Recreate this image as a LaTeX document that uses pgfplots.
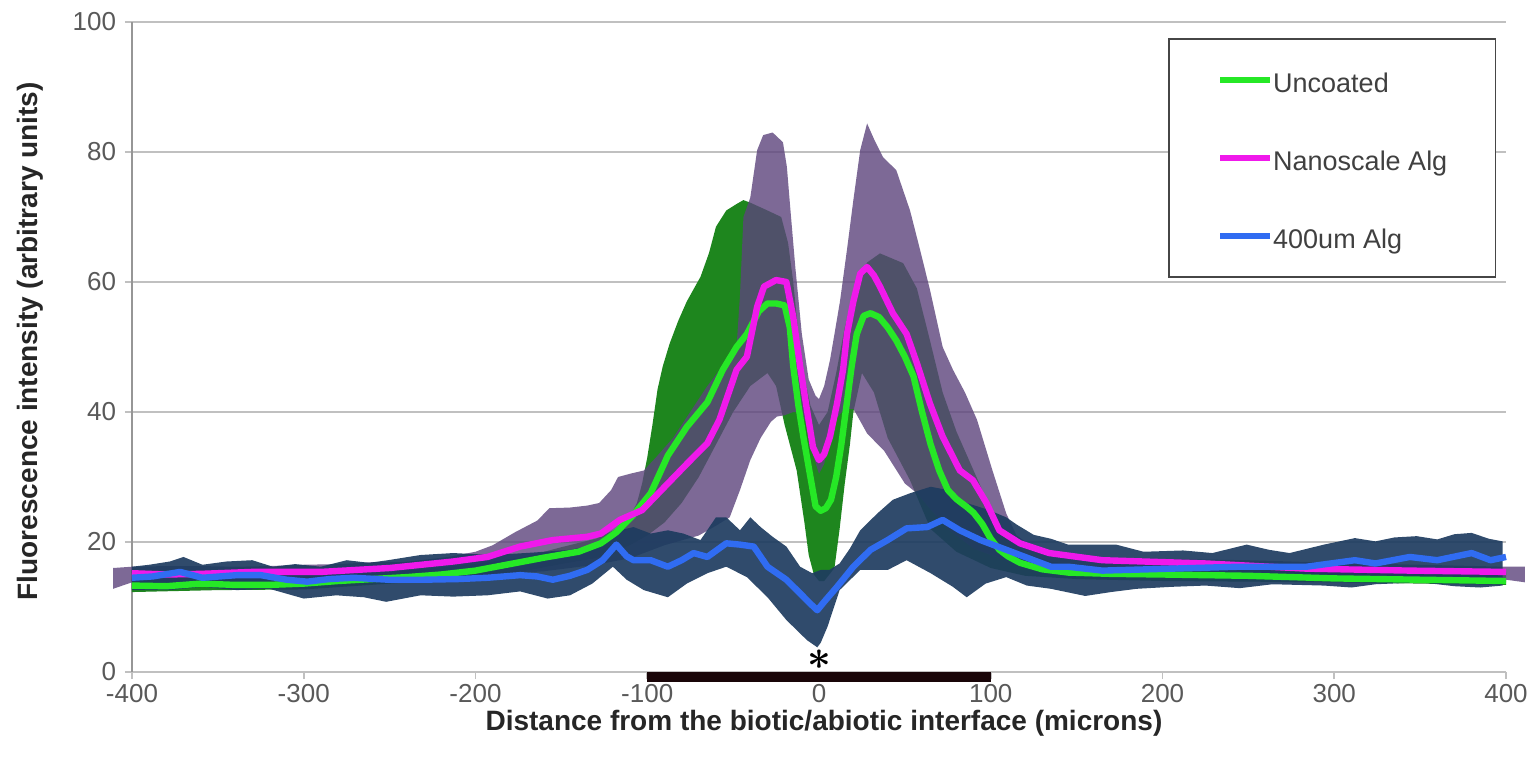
\documentclass[border=0pt]{standalone}
\usepackage{fontspec}
\setmainfont{Liberation Sans}
\usepackage{pgfplots}
\pgfplotsset{compat=1.18}
\usepgfplotslibrary{fillbetween}
\definecolor{gline}{RGB}{38,232,38}
\definecolor{mline}{RGB}{240,25,235}
\definecolor{bline}{RGB}{48,108,242}
\definecolor{gband}{RGB}{30,134,30}
\definecolor{pband}{RGB}{92,68,124}
\definecolor{nband}{RGB}{30,60,96}
\definecolor{gridc}{RGB}{192,192,192}
\definecolor{tickc}{RGB}{89,89,89}
\definecolor{labc}{RGB}{38,38,38}
\definecolor{barc}{RGB}{25,5,8}
\begin{document}
\begin{tikzpicture}
\begin{axis}[
  width=687pt, height=325pt, scale only axis,
  xmin=-400, xmax=400, ymin=0, ymax=100,
  clip=false,
  axis x line=bottom, axis y line=left,
  x axis line style={-, draw=gridc, line width=1pt},
  y axis line style={-, draw={rgb,255:red,150;green,150;blue,150}, line width=0.7pt},
  xtick={-400,-300,...,400},
  xticklabels={-400,-300,-200,-100,0,100,200,300,400},
  ytick={0,20,...,100},
  yticklabels={0,20,40,60,80,100},
  tick align=outside,
  major tick length=3.5pt,
  tick style={draw=gridc, line width=0.8pt},
  ymajorgrids,
  grid style={draw=gridc, line width=1pt},
  tick label style={font=\fontsize{13}{15}\selectfont, text=tickc, inner sep=0pt},
  xticklabel style={anchor=base, yshift=-11.5pt},
  yticklabel style={anchor=east, xshift=-4.3pt},
  xlabel={Distance from the biotic/abiotic interface (microns)},
  ylabel={Fluorescence intensity (arbitrary units)},
  xlabel style={font=\fontsize{14}{16}\selectfont\bfseries, text=labc, at={(axis description cs:0.5036,0)}, anchor=base, yshift=-29pt},
  ylabel style={font=\fontsize{14}{16}\selectfont\bfseries, text=labc, at={(axis description cs:0,0.509)}, anchor=center, yshift=51pt},
  legend style={at={(0.754,0.975)}, anchor=north west, draw={rgb,255:red,70;green,70;blue,70}, line width=0.8pt, fill=white,
    font=\fontsize{13.5}{16}\selectfont, text={rgb,255:red,64;green,64;blue,64},
    inner xsep=24pt, inner ysep=14.5pt, row sep=27pt,
    nodes={inner sep=0pt, text height=12pt, text depth=0pt}},
  legend cell align=left,
  legend image code/.code={\draw[#1, line width=3.2pt] (0pt,0pt) -- (25pt,0pt);},
]
% ---- Uncoated band (mean +/- error)
\addplot[name path=GU, draw=none, forget plot] coordinates {
(-400,14.3) (-350,14.6) (-300,14.7) (-250,15.4) (-200,16.6) (-170,17.8) (-150,19.2) (-130,20.5) (-118,22) (-110,24) (-106,26) (-103,29) (-100,33) (-97,38) (-94,43.5) (-91,47) (-87,50.5) (-82,54) (-77,57) (-69,60.8) (-64,64.5) (-60,68.5) (-54,71) (-48,72) (-44,72.6) (-40,72.2) (-30,71) (-22,70) (-18,66) (-15,60) (-12,52) (-9,46) (-5,41) (0,38) (5,40) (10,46) (15,53) (20,58) (28,63) (35.5,64.4) (49,62.9) (57,59) (64.6,51) (72,43) (80,37) (90,31) (100,25) (110,21) (120,18.3) (135,17) (160,16.3) (200,16) (300,15.7) (400,15.4)};
\addplot[name path=GL, draw=none, forget plot] coordinates {
(-400,12.3) (-350,12.6) (-300,12.7) (-250,13.6) (-200,14.6) (-170,15.6) (-150,16.6) (-130,17.5) (-110,19.5) (-100,21) (-90,23) (-80,26) (-70,30) (-60,35) (-50,40) (-40,44) (-30,46) (-25,44) (-20,38) (-13,31) (-8.5,23) (-6,18) (-3,15) (0,14) (3,14) (6,15) (9,16) (12,22) (15,29) (18,35) (20,40) (25,46) (32,43) (40,36) (53,29.5) (65,22) (80,18.5) (100,16) (120,14.8) (150,14.3) (200,14) (300,13.8) (400,13.4)};
\addplot[fill=gband, draw=none, forget plot] fill between[of=GU and GL];
% ---- Nanoscale Alg band
\addplot[name path=PU, draw=none, forget plot] coordinates {
(-411,16) (-400,16.2) (-380,16.3) (-360,16.3) (-340,16.2) (-320,16.3) (-300,16.5) (-280,16.6) (-260,16.9) (-242,16.9) (-216,17.7) (-200,18.5) (-190,19.5) (-177,21.5) (-164,23.3) (-157,25.2) (-145,25.3) (-135,25.6) (-128,26) (-121,28) (-117,30) (-110,30.5) (-102,31) (-95,33) (-85,36) (-75,40) (-65,44) (-55,47.5) (-48,50) (-46,58) (-44,70) (-40,73) (-36,80.3) (-32.5,82.6) (-27,83) (-21,81.5) (-18.7,77.7) (-16.8,71.6) (-13.8,62.3) (-10,52) (-6,45) (-2,42.5) (0,42) (3,44) (6.4,48) (9,52) (12.2,57) (16.3,65) (20,72.6) (24,80.3) (28,84.4) (32,82) (37.3,79.2) (45,77.2) (53,71) (58.8,65) (64.6,58.8) (72,50) (78,46.5) (85,43) (92,38.8) (101,31) (109,24.4) (115,21) (125,19.2) (140,18.2) (160,17.6) (200,17.4) (250,17.2) (300,16.8) (350,16.5) (400,16.2) (411,16.2)};
\addplot[name path=PL, draw=none, forget plot] coordinates {
(-411,12.8) (-400,13.8) (-350,13.9) (-300,13.9) (-250,14.4) (-200,14.8) (-160,15.5) (-130,16.5) (-110,17.5) (-90,19.5) (-70,21) (-60,22.5) (-52,23.8) (-46,28) (-40,32.6) (-34,36) (-28,38.5) (-24.5,39.3) (-20,39.5) (-15,40) (-10,40) (-6,37) (-3,33) (0,30.5) (3,32) (6,36) (10,39) (15,40.5) (20,40.5) (28,36.7) (38,34) (50,29) (57,27.5) (65,25) (75,22) (90,19) (100,18) (115,16.5) (130,16) (160,15.5) (200,15.3) (300,14.8) (400,14.2) (411,13.8)};
\addplot[fill=pband, fill opacity=0.8, draw=none, forget plot] fill between[of=PU and PL];
% ---- 400um Alg band
\addplot[name path=NU, draw=none, forget plot] coordinates {
(-400,16.2) (-390,16.5) (-378,17) (-370,17.7) (-359,16.5) (-345,17) (-330,17.2) (-318,16.2) (-305,16.6) (-290,16.2) (-275,17.2) (-262,16.8) (-251,17.2) (-232,18) (-213,18.3) (-190,18) (-165,18.4) (-145,18.8) (-130,19.6) (-124,21) (-116,21.8) (-108,22.3) (-98,21.3) (-88,21.8) (-79,21.3) (-69,20.3) (-60,23.8) (-54,23.8) (-46,21.8) (-40,23.8) (-34,22.3) (-27,20.8) (-19,19.3) (-11,16.2) (-4,15.2) (1,15.7) (6,15.7) (12,16.7) (18,19) (24,21.8) (34,24.4) (43,26.5) (53,27.5) (65,28.5) (75,28) (86,26) (98,25) (109,23.8) (115,22.7) (125,21.1) (135,20.5) (145,19.6) (157,19.6) (173,19.6) (189,18.5) (212,18.7) (229,18.3) (249,19.6) (262,18.8) (274,18.3) (294,19.6) (312,20.6) (324,20.1) (335,20.7) (348,20.9) (360,20.4) (370,21.2) (380,21.4) (390,20.5) (398,20.1)};
\addplot[name path=NL, draw=none, forget plot] coordinates {
(-400,12.6) (-378,12.6) (-359,13.1) (-339,12.6) (-320,12.8) (-300,11.3) (-281,11.8) (-265,11.5) (-252,10.8) (-232,11.8) (-213,11.6) (-193,11.8) (-174,12.4) (-158,11.3) (-145,11.8) (-132,13.6) (-120,16.2) (-112,14.2) (-102,12.6) (-88,11.5) (-77,13.6) (-65,15.2) (-54,16.2) (-42,14.6) (-30,11.5) (-19,8) (-7,4.9) (-1,3.8) (1,4.5) (5,7) (12,12.6) (24,15.7) (40,15.7) (51,17.2) (65,15.2) (78,13.1) (86,11.5) (97,13.6) (109,14.6) (121,13.3) (135,12.8) (155,11.7) (170,12.3) (185,12.8) (205,13.1) (225,13.3) (245,12.9) (264,13.5) (294,13.3) (310,13.0) (324,13.5) (350,13.8) (370,13.2) (385,13.0) (398,13.3)};
\addplot[fill=nband, fill opacity=0.92, draw=none, forget plot] fill between[of=NU and NL];
% ---- bar and mean lines
\addplot[barc, line width=5pt, forget plot] coordinates {(-100,-0.72) (100,-0.72)};
\addplot[gline, line width=3.2pt, line join=round] coordinates {
(-400,13.3) (-380,13.2) (-360,13.6) (-340,13.4) (-320,13.4) (-300,13.6) (-280,14.0) (-260,14.3) (-240,14.6) (-220,15.0) (-200,15.6) (-180,16.6) (-160,17.6) (-140,18.5) (-127,19.8) (-118,21.5) (-108,24.2) (-98,27.5) (-88,33.3) (-77,37.7) (-65,41.5) (-56,46.5) (-48,50) (-42,52) (-35,55.5) (-30,56.7) (-25,56.7) (-20,56.4) (-17,53) (-15,47) (-12,41) (-9,36) (-5,30) (-2,25.5) (1,24.8) (4,25.2) (7,26.5) (10,30) (13,35) (16,41) (19,47) (22,52) (26,54.8) (30,55.2) (35,54.6) (40,53) (45,51) (50,48.5) (55,45.5) (60,40) (65,35) (70,31) (75,28) (80,26.6) (86,25.4) (90,24.5) (95,22.8) (100,20.5) (105,18.8) (110,17.8) (117,16.8) (130,15.8) (145,15.3) (170,15.1) (200,15.0) (250,14.8) (300,14.4) (350,14.2) (400,14.0)};
\addlegendentry{Uncoated}
\addplot[mline, line width=3.2pt, line join=round] coordinates {
(-400,15.2) (-380,15.0) (-360,15.1) (-330,15.4) (-290,15.4) (-250,16.0) (-213,17.0) (-193,17.7) (-174,19.3) (-155,20.3) (-135,20.8) (-127,21.3) (-116,23.4) (-103,24.9) (-88,29) (-77,32) (-65,35.2) (-58,38.8) (-52,43.4) (-48,46.5) (-42,48.5) (-36,56.2) (-32,59.3) (-25,60.3) (-19,60) (-15,54.6) (-11,47) (-7,40.3) (-3.5,34.6) (0,32.6) (3,33.5) (6.4,36.2) (10.5,41.3) (14,46.5) (16.3,52) (20,57) (24,61.3) (28,62.3) (32,61) (35.5,59.3) (43,55.2) (51,52) (57,47.5) (64.6,41.3) (72,36.2) (82,31) (89.6,29.5) (97.5,26) (105,21.8) (117,19.8) (134,18.3) (165,17.2) (225,16.7) (284,15.9) (344,15.6) (400,15.4)};
\addlegendentry{Nanoscale Alg}
\addplot[bline, line width=3.2pt, line join=round] coordinates {
(-400,14.5) (-388,14.7) (-372,15.4) (-359,14.5) (-339,14.9) (-325,14.9) (-310,14.2) (-298,13.9) (-285,14.3) (-271,14.5) (-251,14.2) (-230,14.2) (-210,14.3) (-193,14.5) (-174,14.9) (-164,14.7) (-155,14.2) (-145,14.8) (-135,15.7) (-126,17.2) (-118,19.6) (-112,17.8) (-108,17.2) (-98,17.2) (-88,16.2) (-80,17.2) (-73,18.3) (-65,17.7) (-54,19.8) (-46,19.6) (-38,19.3) (-30,16.2) (-19,14.2) (-11,12.1) (-5,10.5) (-1,9.5) (3,10.8) (10.5,13.1) (20,16.2) (30,18.8) (40,20.3) (51,22.1) (63,22.3) (72,23.4) (82,21.8) (94,20.3) (109,18.8) (125,17.2) (135,16.2) (145,16.2) (165,15.6) (205,15.9) (245,16.2) (284,16.2) (312,17.2) (324,16.7) (344,17.7) (360,17.2) (380,18.3) (391,17.2) (400,17.7)};
\addlegendentry{400um Alg}
\node[anchor=south, inner sep=0pt, font=\fontsize{20}{20}\selectfont\boldmath, text=black, yshift=1pt] at (axis cs:0,0) {$\ast$};
\coordinate (SW) at (rel axis cs:0,0);
\coordinate (NE) at (rel axis cs:1,1);
\end{axis}
\pgfresetboundingbox
\path ([shift={(-66pt,-45pt)}]SW) rectangle ([shift={(14.5pt,11pt)}]NE);
\end{tikzpicture}
\end{document}
